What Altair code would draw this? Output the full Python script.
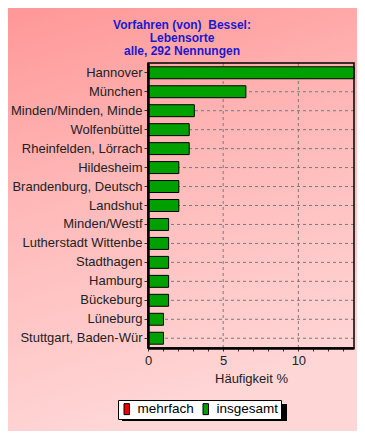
import altair as alt
import pandas as pd

title_lines = ["Vorfahren (von)\u00a0 Bessel:", "Lebensorte", "alle, 292 Nennungen"]
cities = ["Hannover", "München", "Minden/Minden, Minde", "Wolfenbüttel",
          "Rheinfelden, Lörrach", "Hildesheim", "Brandenburg, Deutsch", "Landshut",
          "Minden/Westf", "Lutherstadt Wittenbe", "Stadthagen", "Hamburg",
          "Bückeburg", "Lüneburg", "Stuttgart, Baden-Wür"]
insgesamt = [13.70, 6.51, 3.08, 2.74, 2.74, 2.05, 2.05, 2.05,
             1.37, 1.37, 1.37, 1.37, 1.37, 1.03, 1.03]
series = ["mehrfach", "insgesamt"]
series_colors = ["#EE0000", "#00A000"]
x_grid = [5, 10]
x_ticks = list(range(0, 14))
x_max = 13.70

W, H = 206, 285
PAD = {"left": 140, "top": 55, "right": 3, "bottom": 83}
FONT = "Liberation Sans"

bars_df = pd.DataFrame({"city": cities, "value": insgesamt, "series": "insgesamt"})
grid_df = pd.DataFrame({"value": x_grid})
rows_df = pd.DataFrame({"city": cities})
one = pd.DataFrame({"k": [0]})

x_scale = alt.Scale(domain=[0, x_max], nice=False, zero=True)
x_axis = alt.Axis(values=x_ticks, labelExpr="datum.value % 5 == 0 ? datum.label : ''",
                  title="Häufigkeit %", titleFontWeight="normal", titleFontSize=13,
                  titleFont=FONT, titleColor="#222222", titlePadding=5,
                  labelFont=FONT, labelFontSize=13, labelColor="#222222",
                  labelFlush=False,
                  tickSize=3, tickColor="#333333", domainColor="black", domainWidth=2.5,
                  grid=False, labelPadding=3, zindex=2)
y_scale = alt.Scale(domain=cities, paddingInner=0.37, paddingOuter=0.2)
y_axis = alt.Axis(title=None, labelFont=FONT, labelFontSize=13, labelColor="#222222",
                  tickSize=4, tickColor="#333333", labelPadding=2,
                  domainColor="black", domainWidth=2.5, grid=False, labelLimit=200,
                  zindex=2)

bg = alt.Chart(one).mark_rect(
    fill=alt.Gradient(gradient="linear", x1=0, y1=0, x2=0.25, y2=1,
                      stops=[alt.GradientStop(color="#FF9797", offset=0),
                             alt.GradientStop(color="#FFB8B8", offset=0.45),
                             alt.GradientStop(color="#FFD6D6", offset=1)])
).encode(x=alt.value(-140), x2=alt.value(209), y=alt.value(-55), y2=alt.value(370))

vgrid = alt.Chart(grid_df).mark_rule(color="#7a7a7a", strokeDash=[3, 3], strokeWidth=1).encode(
    x=alt.X("value:Q", scale=x_scale, axis=x_axis)
)

hgrid = alt.Chart(rows_df).mark_rule(color="#7a7a7a", strokeDash=[3, 3], strokeWidth=1).encode(
    y=alt.Y("city:N", scale=y_scale, axis=y_axis, sort=cities)
)

shadow = alt.Chart(one).mark_rect(fill="black").encode(
    x=alt.value(-26), x2=alt.value(139), y=alt.value(341), y2=alt.value(358)
)

bars = alt.Chart(bars_df).mark_bar(stroke="black", strokeWidth=1).encode(
    x=alt.X("value:Q", scale=x_scale, axis=x_axis),
    y=alt.Y("city:N", scale=y_scale, axis=y_axis, sort=cities),
    color=alt.Color("series:N", scale=alt.Scale(domain=series, range=series_colors),
                    legend=alt.Legend(title=None, orient="none", legendX=-30, legendY=337,
                                      direction="horizontal", columns=2,
                                      fillColor="white", strokeColor="black",
                                      padding=2, columnPadding=5,
                                      symbolType="M-0.5,-1L0.5,-1L0.5,1L-0.5,1Z",
                                      symbolSize=120, symbolStrokeColor="black",
                                      symbolStrokeWidth=1, symbolOpacity=1,
                                      labelFont=FONT, labelFontSize=13.5,
                                      labelColor="black", labelOffset=4, zindex=3))
)

frame = alt.Chart(one).mark_rect(fillOpacity=0, stroke="black", strokeWidth=1.5).encode(
    x=alt.value(0), x2=alt.value(W), y=alt.value(0), y2=alt.value(H)
)

chart = alt.layer(bg, vgrid, hgrid, bars, frame, shadow).properties(
    width=W, height=H,
    autosize=alt.AutoSizeParams(type="none"),
    padding=PAD,
    background="#FFC8C8",
    title=alt.TitleParams(text=title_lines, anchor="middle", frame="group", dx=-69,
                          offset=-50, fontSize=12, fontWeight="bold", font=FONT,
                          color="#1a1acc", lineHeight=13, zindex=3)
).configure_view(stroke=None)

chart.save("out.html", embed_options={"renderer": "svg", "actions": False})
